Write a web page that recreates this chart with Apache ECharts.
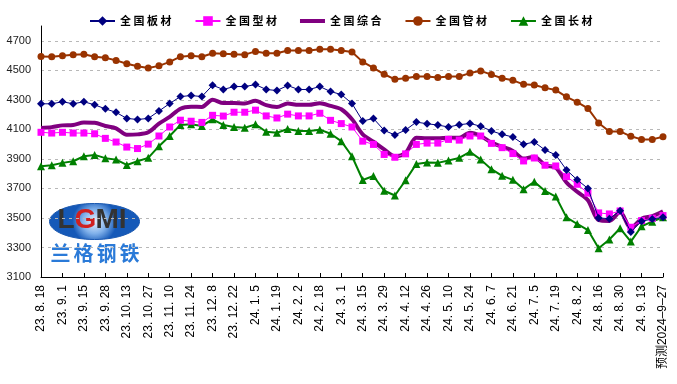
<!DOCTYPE html>
<html>
<head>
<meta charset="utf-8">
<script src="https://cdn.jsdelivr.net/npm/echarts@6/dist/echarts.min.js"></script>
<style>html,body{margin:0;padding:0;background:#fff}#c{width:677px;height:384px}</style>
</head>
<body>
<div id="c"></div>
<script>
const tickLabels = ['23. 8. 18','23. 9. 1','23. 9. 15','23. 9. 28','23. 10. 13','23. 10. 27','23. 11. 10','23. 11. 24','23. 12. 8','23. 12. 22','24. 1. 5','24. 1. 19','24. 2. 2','24. 2. 18','24. 3. 1','24. 3. 15','24. 3. 29','24. 4. 12','24. 4. 26','24. 5. 10','24. 5. 24','24. 6. 7','24. 6. 21','24. 7. 5','24. 7. 19','24. 8. 2','24. 8. 16','24. 8. 30','24. 9. 13','预测2024–9–27'];

const seriesNames = ['全国板材','全国型材','全国综合','全国管材','全国长材'];

const plate = [4273,4273,4287,4273,4287,4266,4239,4215,4174,4167,4174,
  4224,4275,4322,4329,4322,4399,4370,4390,4390,4403,
  4370,4363,4397,4370,4370,4390,4356,4336,4275,4156,
  4174,4093,4062,4096,4149,4138,4129,4116,4131,4140,
  4121,4089,4066,4048,3999,4014,3960,3927,3825,3758,
  3700,3500,3495,3548,3405,3478,3492,3505];

const section = [4080,4075,4080,4075,4075,4070,4039,4014,3980,3970,4000,
  4055,4116,4162,4155,4147,4195,4190,4216,4216,4230,
  4191,4177,4203,4191,4191,4209,4161,4139,4116,4020,
  3998,3930,3911,3934,3998,4007,4007,4032,4027,4055,
  4055,4005,3976,3936,3886,3906,3857,3852,3780,3728,
  3668,3534,3527,3547,3437,3482,3498,3516];

const composite = [4110,4115,4127,4130,4146,4144,4123,4107,4063,4066,4080,
  4139,4184,4240,4253,4252,4301,4278,4278,4275,4293,
  4264,4252,4275,4266,4266,4277,4259,4236,4168,4066,
  4016,3964,3918,3941,4043,4039,4039,4043,4043,4077,
  4055,4010,3983,3954,3902,3915,3857,3841,3740,3677,
  3620,3485,3480,3540,3430,3495,3512,3545];

const pipe = [4594,4592,4599,4606,4608,4592,4585,4567,4544,4528,4516,
  4530,4557,4592,4599,4592,4615,4612,4608,4606,4628,
  4615,4615,4634,4634,4634,4642,4642,4634,4624,4557,
  4516,4473,4439,4446,4458,4458,4451,4458,4458,4481,
  4496,4471,4446,4432,4405,4400,4381,4366,4320,4284,
  4242,4143,4086,4086,4053,4032,4032,4050];

const longProd = [3850,3857,3873,3884,3918,3927,3905,3895,3859,3884,3907,
  3986,4055,4130,4134,4123,4168,4130,4116,4111,4134,
  4084,4077,4102,4089,4089,4098,4070,4020,3918,3757,
  3784,3684,3652,3755,3866,3875,3873,3889,3907,3948,
  3895,3830,3785,3758,3695,3745,3683,3645,3504,3459,
  3418,3295,3354,3430,3340,3444,3475,3505];

// categories: one per weekly point, tick label on every other point
const categories = [];
for (let i = 0; i < plate.length; i++) {
  categories.push(i % 2 === 0 ? tickLabels[i / 2] : '');
}

const chart = echarts.init(document.getElementById('c'), null, {renderer: 'canvas'});
const spaced = s => s.split('').join(' ');
const thickLineIcon = 'path://M0,0h25v0.01h-25zM0,4h25v4h-25zM0,11.99h25v0.01h-25z';

const logoChars = '兰格钢铁'.split('').map((ch, k) => ({
  type: 'text', left: 1 + k * 23, top: 40,
  style: {text: ch, fontSize: 20, fontWeight: 'bold', fill: '#2a7ad8', fontFamily: 'Noto Sans CJK SC'}
}));

chart.setOption({
  animation: false,
  backgroundColor: '#ffffff',
  textStyle: {fontFamily: 'Liberation Sans, Arial, sans-serif'},
  legend: {
    top: 10, left: 84,
    itemGap: 23, itemWidth: 25, itemHeight: 12,
    textStyle: {fontFamily: 'Noto Sans CJK SC', fontWeight: 'bold', fontSize: 11, color: '#000'},
    formatter: n => spaced(n),
    data: [
      {name: seriesNames[0]},
      {name: seriesNames[1]},
      {name: seriesNames[2], icon: thickLineIcon},
      {name: seriesNames[3]},
      {name: seriesNames[4]}
    ]
  },
  grid: {left: 41, right: 14, top: 26, bottom: 107, containLabel: false},
  xAxis: {
    type: 'category',
    data: categories,
    boundaryGap: false,
    axisLine: {lineStyle: {color: '#000', width: 1}},
    axisTick: {show: true, inside: true, length: 4, interval: 1, lineStyle: {color: '#000'}},
    axisLabel: {interval: 0, rotate: 90, fontSize: 12, color: '#000', margin: 8,
      fontFamily: 'Liberation Sans, Arial, Noto Sans CJK SC'},
    splitLine: {show: false}
  },
  yAxis: {
    type: 'value',
    min: 3100, max: 4800, interval: 200,
    axisLine: {show: true, lineStyle: {color: '#000', width: 1}},
    axisTick: {show: false},
    axisLabel: {fontSize: 11, color: '#222', margin: 10, showMaxLabel: false,
      formatter: v => (v > 4700 ? '' : String(v))},
    splitLine: {show: true, showMinLine: false, showMaxLine: false,
      lineStyle: {color: '#b8b8b8', type: [3, 4], width: 1}}
  },
  graphic: [
    {
      type: 'group', left: 49, top: 203, silent: true,
      children: [
        {type: 'ellipse', shape: {cx: 45, cy: 18, rx: 45, ry: 18},
          style: {fill: new echarts.graphic.RadialGradient(0.5, 0.5, 0.6, [
            {offset: 0, color: '#e8f1ff'}, {offset: 0.55, color: '#7fb0ea'}, {offset: 1, color: '#1559b8'}]),
            stroke: '#1a58b0', lineWidth: 1}},
        {type: 'text', left: 8, top: 3, style: {text: 'L', fontSize: 28, fontWeight: 'bold', fill: '#333', fontFamily: 'Liberation Sans'}},
        {type: 'text', left: 25, top: 3, style: {text: 'G', fontSize: 28, fontWeight: 'bold', fill: '#d02020', fontFamily: 'Liberation Sans'}},
        {type: 'text', left: 46, top: 3, style: {text: 'MI', fontSize: 28, fontWeight: 'bold', fill: '#333', fontFamily: 'Liberation Sans'}}
      ].concat(logoChars)
    }
  ],
  series: [
    {name: seriesNames[0], type: 'line', data: plate, symbol: 'diamond', symbolSize: 8,
      itemStyle: {color: '#000080'}, lineStyle: {color: '#000080', width: 1}, z: 6},
    {name: seriesNames[1], type: 'line', data: section, symbol: 'rect', symbolSize: 7,
      itemStyle: {color: '#ff00ff'}, lineStyle: {color: '#ff00ff', width: 1}, z: 5},
    {name: seriesNames[2], type: 'line', data: composite, symbol: 'none', smooth: 0.3,
      itemStyle: {color: '#800080'}, lineStyle: {color: '#800080', width: 4}, z: 4},
    {name: seriesNames[3], type: 'line', data: pipe, symbol: 'circle', symbolSize: 7,
      itemStyle: {color: '#993300'}, lineStyle: {color: '#993300', width: 2}, z: 3},
    {name: seriesNames[4], type: 'line', data: longProd, symbol: 'triangle', symbolSize: 8,
      itemStyle: {color: '#008000'}, lineStyle: {color: '#008000', width: 2}, z: 3}
  ]
});
</script>
</body>
</html>
